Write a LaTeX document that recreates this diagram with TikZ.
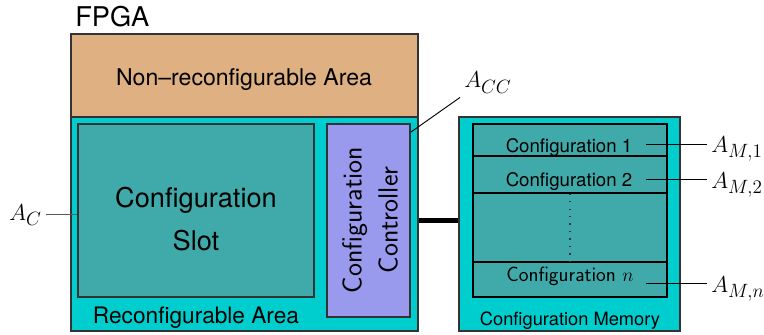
\documentclass[tikz,border=0pt]{standalone}
\usepackage{fontspec}
\newfontfamily\helv{TeX Gyre Heros}
\usetikzlibrary{fit}

\definecolor{nonreconf}{RGB}{222,176,130}
\definecolor{reconf}{RGB}{0,206,206}
\definecolor{slotfill}{RGB}{64,170,170}
\definecolor{ctrlfill}{RGB}{153,153,238}

\tikzset{
	area/.style={draw=black!80, line width=0.8pt, inner sep=0pt},
	memrow/.style={draw=black, line width=0.9pt, fill=slotfill, inner sep=0pt},
	lbl/.style={inner sep=0pt},
	pin/.style={line width=0.7pt},
	bus/.style={line width=3.8pt},
}

\begin{document}
\begin{tikzpicture}[x=0.75pt,y=-0.75pt]
	\useasboundingbox (0,0) rectangle (764,335);
	
	% ======================================================
	% FPGA: fixed part on top, reconfigurable part below
	% ======================================================
	\node[lbl, anchor=base west, font={\helv\fontsize{20.4}{24}\selectfont}] (fpga) at (75,27) {FPGA};
	
	\node[area, fill=nonreconf, fit={(71,34)(418,117)}] (nonreconf) {};
	\node[lbl, font={\helv\fontsize{17.3}{20}\selectfont}] (nonreconflbl) at (244,80) {Non–reconfigurable Area};
	
	\node[area, fill=reconf, fit={(71,117)(418,331)}] (reconf) {};
	\node[lbl, anchor=base, font={\helv\fontsize{17}{20}\selectfont}] (reconflbl) at (196,323) {Reconfigurable Area};
	
	% slot and controller inside the reconfigurable part
	\node[area, fill=slotfill, fit={(78,124)(314,297)}] (slot) {};
	\node[lbl, align=center, font={\helv\fontsize{20.4}{32}\selectfont}] (slotlbl) at (196,219) {Configuration\\Slot};
	
	\node[area, fill=ctrlfill, fit={(327,124)(410,317)}] (ctrl) {};
	\node[lbl, rotate=90, align=center, font={\sffamily\fontsize{20.7}{27}\selectfont}] (ctrllbl) at (370,220) {Configuration\\Controller};
	
	% ======================================================
	% Configuration memory with n stored configurations
	% ======================================================
	\node[area, fill=reconf, fit={(459,117)(680,331)}] (mem) {};
	\node[lbl, anchor=base, font={\helv\fontsize{13.7}{16}\selectfont}] (memlbl) at (570,325) {Configuration Memory};
	
	\node[memrow, fit={(473,124)(667,297)}] (memin) {};
	\node[memrow, fit={(473,124)(667,156)}] (cfg1) {};
	\node[memrow, fit={(473,156)(667,193)}] (cfg2) {};
	\node[memrow, fit={(473,262)(667,297)}] (cfgn) {};
	\node[lbl, anchor=base, font={\helv\fontsize{14}{16}\selectfont}] (cfg1lbl) at (569,152) {Configuration 1};
	\node[lbl, anchor=base, font={\helv\fontsize{14}{16}\selectfont}] (cfg2lbl) at (569,186) {Configuration 2};
	\node[lbl, anchor=base, font={\sffamily\fontsize{15.5}{18}\selectfont}] (cfgnlbl) at (570,281) {Configuration $n$};
	\draw[black!80, line width=0.9pt, dash pattern=on 0.9pt off 4.7pt] (cfg2.south) -- (cfgn.north);
	
	% link between controller and memory
	\draw[bus] (ctrl.east -| reconf.east) -- (ctrl.east -| mem.west);
	
	% ======================================================
	% Area labels
	% ======================================================
	\begin{scope}[every node/.style={inner sep=3pt, font=\fontsize{19}{22}\selectfont}]
		\node[anchor=base east] (ac) at (46,220) {$A_C$};
		\node[anchor=base west] (acc) at (460,88) {$A_{CC}$};
		\node[anchor=base west] (am1) at (707,152) {$A_{M,1}$};
		\node[anchor=base west] (am2) at (707,188) {$A_{M,2}$};
		\node[anchor=base west] (amn) at (707,292) {$A_{M,n}$};
	\end{scope}
	
	\coordinate (ccpin) at (411,132);
	\coordinate (m1) at (646,144);
	\coordinate (m2) at (646,179);
	\coordinate (mn) at (646,283);
	
	\draw[pin, black!65] (ac.east) -- (ac.east -| slot.west);
	\draw[pin] (acc.south west) -- (ccpin);
	\draw[pin] (m1) -- (m1 -| am1.west);
	\draw[pin] (m2) -- (m2 -| am2.west);
	\draw[pin] (mn) -- (mn -| amn.west);
	
\end{tikzpicture}
\end{document}
